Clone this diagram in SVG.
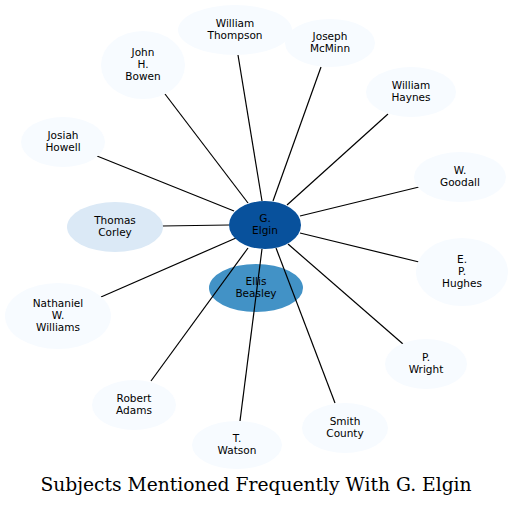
<svg xmlns="http://www.w3.org/2000/svg" width="513" height="507" viewBox="0 0 513 507">
<style>
.n{fill:#f7fbff;stroke:none}
text{font-family:"DejaVu Sans",sans-serif;font-size:10.5px;fill:#000;text-anchor:middle}
.t{font-family:"DejaVu Serif",serif;font-size:18.7px}
#edges line{stroke:#000;stroke-width:1.2}
</style>
<rect width="513" height="507" fill="#fff"/>
<g id="ellis-beasley"><ellipse cx="256" cy="288" rx="47" ry="24" fill="#4292c6"/><text x="256" y="285">Ellis</text><text x="256" y="297">Beasley</text></g>
<g id="edges">
<line x1="262" y1="201" x2="238" y2="55"/>
<line x1="273" y1="201" x2="321" y2="67"/>
<line x1="248" y1="203" x2="165" y2="94"/>
<line x1="287" y1="205" x2="388" y2="114"/>
<line x1="234" y1="211" x2="97" y2="156"/>
<line x1="300" y1="216" x2="419" y2="187"/>
<line x1="300" y1="233" x2="419" y2="262"/>
<line x1="229" y1="225" x2="162" y2="226"/>
<line x1="236" y1="238" x2="101" y2="297"/>
<line x1="248" y1="248" x2="151" y2="381"/>
<line x1="262" y1="249" x2="240" y2="421"/>
<line x1="276" y1="248" x2="335" y2="403"/>
<line x1="288" y1="244" x2="403" y2="344"/>
</g>
<g id="g-elgin"><ellipse cx="265" cy="225" rx="36" ry="24" fill="#08519c"/><text x="265" y="222">G.</text><text x="265" y="234">Elgin</text></g>
<g id="william-thompson"><ellipse class="n" cx="235" cy="30" rx="57" ry="25"/><text x="235" y="27">William</text><text x="235" y="39">Thompson</text></g>
<g id="joseph-mcminn"><ellipse class="n" cx="330" cy="43" rx="45" ry="24"/><text x="330" y="40">Joseph</text><text x="330" y="52">McMinn</text></g>
<g id="john-h-bowen"><ellipse class="n" cx="143" cy="65" rx="42" ry="34"/><text x="143" y="56">John</text><text x="143" y="68">H.</text><text x="143" y="80">Bowen</text></g>
<g id="william-haynes"><ellipse class="n" cx="411" cy="92" rx="45" ry="25"/><text x="411" y="89">William</text><text x="411" y="101">Haynes</text></g>
<g id="josiah-howell"><ellipse class="n" cx="63" cy="142" rx="42" ry="25"/><text x="63" y="139">Josiah</text><text x="63" y="151">Howell</text></g>
<g id="w-goodall"><ellipse class="n" cx="460" cy="177" rx="46" ry="25"/><text x="460" y="174">W.</text><text x="460" y="186">Goodall</text></g>
<g id="thomas-corley"><ellipse cx="115" cy="227" rx="48" ry="25" fill="#dbe9f6"/><text x="115" y="224">Thomas</text><text x="115" y="236">Corley</text></g>
<g id="e-p-hughes"><ellipse class="n" cx="462" cy="272" rx="46" ry="34"/><text x="462" y="263">E.</text><text x="462" y="275">P.</text><text x="462" y="287">Hughes</text></g>
<g id="nathaniel-w-williams"><ellipse class="n" cx="58" cy="316" rx="53" ry="33"/><text x="58" y="307">Nathaniel</text><text x="58" y="319">W.</text><text x="58" y="331">Williams</text></g>
<g id="p-wright"><ellipse class="n" cx="426" cy="364" rx="41" ry="25"/><text x="426" y="361">P.</text><text x="426" y="373">Wright</text></g>
<g id="robert-adams"><ellipse class="n" cx="134" cy="405" rx="42" ry="25"/><text x="134" y="402">Robert</text><text x="134" y="414">Adams</text></g>
<g id="smith-county"><ellipse class="n" cx="345" cy="428" rx="43" ry="25"/><text x="345" y="425">Smith</text><text x="345" y="437">County</text></g>
<g id="t-watson"><ellipse class="n" cx="237" cy="445" rx="45" ry="24"/><text x="237" y="442">T.</text><text x="237" y="454">Watson</text></g>
<text class="t" x="256" y="491">Subjects Mentioned Frequently With G. Elgin</text>
</svg>
